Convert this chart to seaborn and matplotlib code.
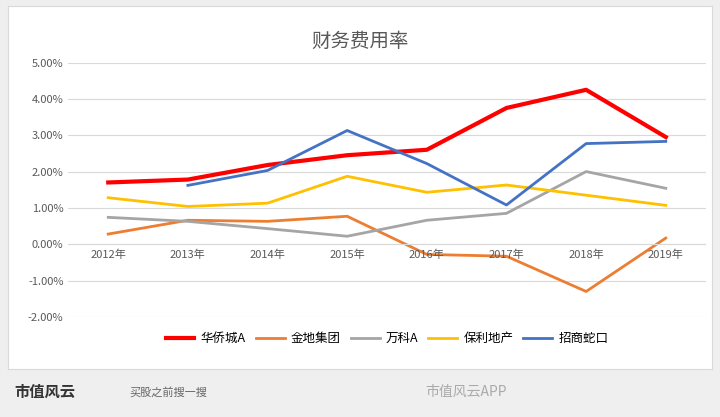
import matplotlib
matplotlib.use("Agg")
import matplotlib.pyplot as plt
from matplotlib import font_manager as fm
import seaborn as sns
import pandas as pd
import numpy as np

cjk = [f.name for f in fm.fontManager.ttflist if "CJK" in f.name]
plt.rcParams["font.family"] = "sans-serif"
plt.rcParams["font.sans-serif"] = ["Noto Sans CJK SC", "Noto Sans CJK JP"] + cjk + ["DejaVu Sans"]
plt.rcParams["axes.unicode_minus"] = False

years = ["2012年", "2013年", "2014年", "2015年", "2016年", "2017年", "2018年", "2019年"]
hqc = [1.70, 1.78, 2.18, 2.45, 2.60, 3.75, 4.25, 2.95]
jd = [0.28, 0.66, 0.63, 0.77, -0.28, -0.33, -1.30, 0.17]
wk = [0.74, 0.63, 0.43, 0.22, 0.66, 0.85, 2.00, 1.54]
bl = [1.28, 1.04, 1.13, 1.87, 1.43, 1.63, 1.35, 1.07]
zs = [np.nan, 1.62, 2.03, 3.13, 2.22, 1.08, 2.77, 2.83]
names = ["华侨城A", "金地集团", "万科A", "保利地产", "招商蛇口"]
colors = ["#ff0000", "#ed7d31", "#a5a5a5", "#ffc000", "#4472c4"]
widths = [3, 2, 2, 2, 2]

rows = []
for n, vals in zip(names, [hqc, jd, wk, bl, zs]):
    for i, v in enumerate(vals):
        rows.append({"x": i, "v": v, "s": n})
df = pd.DataFrame(rows)

fig = plt.figure(figsize=(7.2, 4.17), dpi=100)
fig.patch.set_facecolor("#efefef")
bg = fig.add_axes([0.011, 0.115, 0.978, 0.87])
bg.set_facecolor("white"); bg.set_xticks([]); bg.set_yticks([])
for s in bg.spines.values():
    s.set_color("#d9d9d9")

ax = fig.add_axes([0.095, 0.24, 0.885, 0.61])
for n, c, w in zip(names, colors, widths):
    d = df[df.s == n].dropna()
    sns.lineplot(data=d, x="x", y="v", ax=ax, color=c, linewidth=w, label=n)
ax.set_ylim(-2, 5)
ax.set_xlim(-0.5, 7.5)
ax.set_yticks(np.arange(-2, 5.01, 1))
ax.set_yticklabels([f"{v:.2f}%" for v in np.arange(-2, 5.01, 1)], fontsize=8, color="#595959")
ax.set_xticks([])
for i, y in enumerate(years):
    ax.text(i, -0.3, y, ha="center", va="center", fontsize=8, color="#595959")
ax.grid(axis="y", color="#d9d9d9", linewidth=0.8)
ax.axhline(0, color="#d9d9d9", linewidth=0.8)
ax.set_axisbelow(True)
for s in ax.spines.values():
    s.set_visible(False)
ax.tick_params(length=0)
ax.set_xlabel(""); ax.set_ylabel("")
ax.legend(loc="upper center", bbox_to_anchor=(0.5, -0.015), ncol=5, frameon=False,
          fontsize=9, handlelength=2.3, columnspacing=0.8, handletextpad=0.5)
fig.text(0.5, 0.9, "财务费用率", ha="center", va="center", fontsize=14, color="#595959")
fig.text(0.02, 0.06, "市值风云", fontsize=11, color="#333333", weight="bold", va="center")
fig.text(0.18, 0.06, "买股之前搜一搜", fontsize=8, color="#666666", va="center")
fig.text(0.59, 0.06, "市值风云APP", fontsize=10, color="#aaaaaa", va="center")
fig.savefig("out.png", dpi=100, facecolor=fig.get_facecolor())
